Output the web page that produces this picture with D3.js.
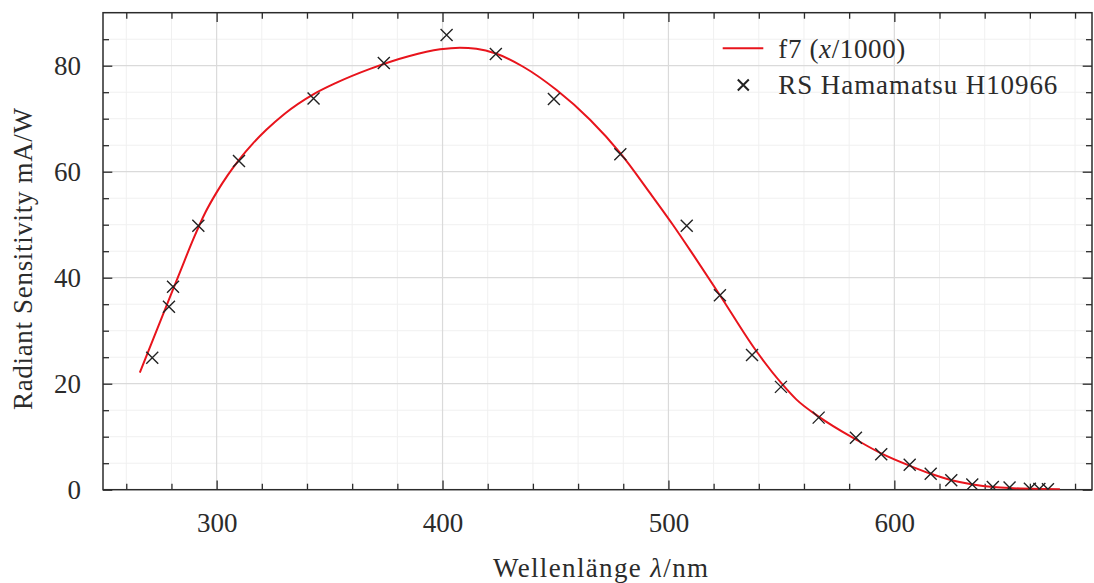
<!DOCTYPE html>
<html>
<head>
<meta charset="utf-8">
<script src="https://cdn.jsdelivr.net/npm/d3@7"></script>
<style>
  html, body { margin: 0; padding: 0; background: #fff; }
  svg { display: block; }
  text { font-family: "Liberation Serif", "Times New Roman", serif; fill: #2b2b2b; }
</style>
</head>
<body>
<svg id="chart" width="1094" height="583"></svg>
<script>
// Measured radiant sensitivity of the Hamamatsu H10966 (wavelength in nm, mA/W)
const measWavelength = [271.5, 278.9, 280.7, 291.9, 309.9, 342.9, 374.0, 401.8, 423.6, 449.3,
  478.7, 508.1, 522.8, 537.0, 549.8, 566.5, 583.0, 594.2, 606.8, 616.1,
  625.2, 634.5, 643.6, 651.0, 660.0, 664.2, 668.0];
const measSensitivity = [24.9, 34.5, 38.3, 49.8, 62.0, 73.8, 80.5, 85.8, 82.2, 73.7,
  63.3, 49.8, 36.7, 25.4, 19.4, 13.6, 9.8, 6.7, 4.7, 3.0,
  1.8, 1.0, 0.5, 0.4, 0.2, 0.15, 0.1];

// Fitted curve f7(x/1000), sampled along the wavelength axis
const fitWavelength = [266.0, 272.0, 278.0, 284.0, 290.0, 295.0, 300.0, 305.0, 310.0, 316.0,
  322.0, 330.0, 342.8, 353.1, 367.9, 385.0, 398.9, 407.7, 415.0, 423.6,
  435.7, 450.5, 465.3, 478.7, 491.8, 502.1, 511.0, 522.8, 538.5, 549.8,
  556.7, 566.5, 583.3, 594.4, 606.9, 616.2, 625.4, 634.7, 643.8, 652.6,
  664.4, 673.3];
const fitSensitivity = [22.1, 28.5, 34.9, 41.3, 47.6, 52.3, 56.1, 59.4, 62.3, 65.3,
  67.9, 70.9, 74.6, 76.8, 79.4, 81.8, 83.1, 83.4, 83.2, 82.3,
  79.8, 75.4, 69.8, 63.5, 56.0, 49.9, 44.3, 36.7, 26.4, 20.2,
  17.0, 13.8, 9.4, 6.8, 4.5, 3.0, 1.8, 1.0, 0.5, 0.28,
  0.13, 0.08];

const xMajorTicks = [300, 400, 500, 600];
const xMinorTicks = d3.range(260, 681, 20);
const yMajorTicks = [0, 20, 40, 60, 80];
const yMinorTicks = d3.range(5, 90, 5);

const legendLabels = ["f7", "RS Hamamatsu H10966"];
const xTitle = "Wellenlänge";
const yTitle = "Radiant Sensitivity mA/W";

const svg = d3.select("#chart");
const plot = { left: 103, right: 1092, top: 12.7, bottom: 489.7 };

const x = d3.scaleLinear().domain([249.7, 687.5]).range([plot.left, plot.right]);
const y = d3.scaleLinear().domain([0, 90]).range([plot.bottom, plot.top]);

const fontSize = 27;
const ink = "#2b2b2b";

// grid: minor first, then major on top
const grid = svg.append("g");
grid.selectAll("line.xminor").data(xMinorTicks.filter(v => !xMajorTicks.includes(v)))
  .join("line").attr("x1", d => x(d)).attr("x2", d => x(d))
  .attr("y1", plot.top).attr("y2", plot.bottom)
  .attr("stroke", "#f0f0f0").attr("stroke-width", 1);
grid.selectAll("line.yminor").data(yMinorTicks.filter(v => !yMajorTicks.includes(v)))
  .join("line").attr("y1", d => y(d)).attr("y2", d => y(d))
  .attr("x1", plot.left).attr("x2", plot.right)
  .attr("stroke", "#f0f0f0").attr("stroke-width", 1);
grid.selectAll("line.xmajor").data(xMajorTicks)
  .join("line").attr("x1", d => x(d)).attr("x2", d => x(d))
  .attr("y1", plot.top).attr("y2", plot.bottom)
  .attr("stroke", "#dadada").attr("stroke-width", 1.2);
grid.selectAll("line.ymajor").data(yMajorTicks.filter(v => v > 0))
  .join("line").attr("y1", d => y(d)).attr("y2", d => y(d))
  .attr("x1", plot.left).attr("x2", plot.right)
  .attr("stroke", "#dadada").attr("stroke-width", 1.2);

// axes with inward ticks on all four sides
function styleAxis(g) {
  g.select(".domain").remove();
  g.selectAll(".tick line").attr("stroke", ink).attr("stroke-width", 1.3);
  g.selectAll(".tick text").attr("font-size", fontSize).attr("fill", ink)
    .style("font-family", '"Liberation Serif", serif');
}
const majLen = 9.3, minLen = 6;
const xMinorOnly = xMinorTicks.filter(v => !xMajorTicks.includes(v));
const yMinorOnly = yMinorTicks.filter(v => !yMajorTicks.includes(v));

svg.append("g").attr("transform", `translate(0,${plot.bottom})`)
  .call(d3.axisBottom(x).tickValues(xMinorOnly).tickSize(-minLen).tickFormat(""))
  .call(styleAxis);
svg.append("g").attr("transform", `translate(0,${plot.bottom})`)
  .call(d3.axisBottom(x).tickValues(xMajorTicks).tickSize(-majLen).tickPadding(23).tickFormat(d3.format("d")))
  .call(styleAxis);
svg.append("g").attr("transform", `translate(0,${plot.top})`)
  .call(d3.axisTop(x).tickValues(xMinorOnly).tickSize(-minLen).tickFormat(""))
  .call(styleAxis);
svg.append("g").attr("transform", `translate(0,${plot.top})`)
  .call(d3.axisTop(x).tickValues(xMajorTicks).tickSize(-majLen).tickFormat(""))
  .call(styleAxis);

svg.append("g").attr("transform", `translate(${plot.left},0)`)
  .call(d3.axisLeft(y).tickValues(yMinorOnly).tickSize(-minLen).tickFormat(""))
  .call(styleAxis);
svg.append("g").attr("transform", `translate(${plot.left},0)`)
  .call(d3.axisLeft(y).tickValues(yMajorTicks).tickSize(-majLen).tickPadding(22).tickFormat(d3.format("d")))
  .call(styleAxis);
svg.append("g").attr("transform", `translate(${plot.right},0)`)
  .call(d3.axisRight(y).tickValues(yMinorOnly).tickSize(-minLen).tickFormat(""))
  .call(styleAxis);
svg.append("g").attr("transform", `translate(${plot.right},0)`)
  .call(d3.axisRight(y).tickValues(yMajorTicks).tickSize(-majLen).tickFormat(""))
  .call(styleAxis);

// frame
svg.append("rect")
  .attr("x", plot.left).attr("y", plot.top)
  .attr("width", plot.right - plot.left).attr("height", plot.bottom - plot.top)
  .attr("fill", "none").attr("stroke", ink).attr("stroke-width", 1.5);

// clip region for the data
svg.append("clipPath").attr("id", "plotclip")
  .append("rect").attr("x", plot.left).attr("y", plot.top)
  .attr("width", plot.right - plot.left).attr("height", plot.bottom - plot.top);

const data = svg.append("g").attr("clip-path", "url(#plotclip)");

// fitted curve
const fitPts = fitWavelength.map((w, i) => [w, fitSensitivity[i]]);
const line = d3.line().x(d => x(d[0])).y(d => y(d[1])).curve(d3.curveMonotoneX);
const red = "#e8141c";
data.append("path").datum(fitPts).attr("d", line)
  .attr("fill", "none").attr("stroke", red).attr("stroke-width", 2);

// measured points as crosses
const crossR = 6;
const crossPath = (cx, cy, r) => `M${cx - r},${cy - r}L${cx + r},${cy + r}M${cx - r},${cy + r}L${cx + r},${cy - r}`;
data.selectAll("path.meas").data(measWavelength.map((w, i) => [w, measSensitivity[i]]))
  .join("path").attr("class", "meas")
  .attr("d", d => crossPath(x(d[0]), y(d[1]), crossR))
  .attr("fill", "none").attr("stroke", "#222").attr("stroke-width", 1.4);

// legend
const lg = svg.append("g");
lg.append("line").attr("x1", 722.7).attr("x2", 763.3).attr("y1", 48.3).attr("y2", 48.3)
  .attr("stroke", red).attr("stroke-width", 2);
const t1 = lg.append("text").attr("x", 778.3).attr("y", 57.5).attr("font-size", fontSize)
  .attr("textLength", 127).attr("lengthAdjust", "spacing");
t1.append("tspan").text(legendLabels[0] + " (");
t1.append("tspan").attr("font-style", "italic").text("x");
t1.append("tspan").text("/1000)");
lg.append("path").attr("d", crossPath(743.3, 85, 5.5))
  .attr("fill", "none").attr("stroke", "#222").attr("stroke-width", 2);
lg.append("text").attr("x", 778.3).attr("y", 94).attr("font-size", fontSize)
  .attr("textLength", 279).attr("lengthAdjust", "spacing").text(legendLabels[1]);

// axis titles
const xt = svg.append("text").attr("x", 600.5).attr("y", 576.7)
  .attr("text-anchor", "middle").attr("font-size", fontSize)
  .attr("textLength", 215).attr("lengthAdjust", "spacing");
xt.append("tspan").text(xTitle + " ");
xt.append("tspan").attr("font-style", "italic").text("λ");
xt.append("tspan").text("/nm");

svg.append("text")
  .attr("transform", `translate(32.3,259) rotate(-90)`)
  .attr("text-anchor", "middle").attr("font-size", fontSize)
  .attr("textLength", 302).attr("lengthAdjust", "spacing").text(yTitle);
</script>
</body>
</html>
